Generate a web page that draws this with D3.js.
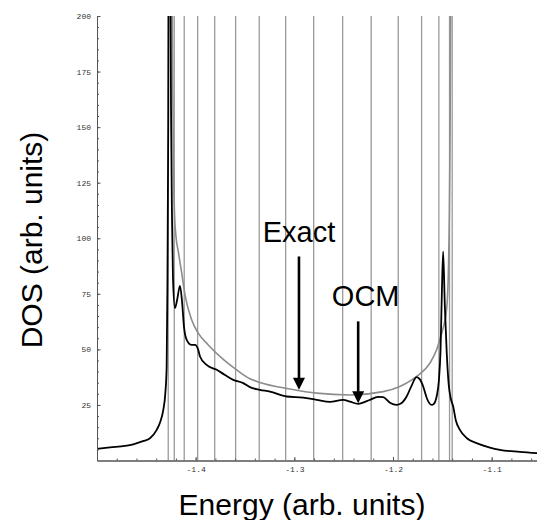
<!DOCTYPE html>
<html>
<head>
<meta charset="utf-8">
<script src="https://cdn.jsdelivr.net/npm/d3@7"></script>
<style>
  body { margin: 0; background: #fff; }
  svg { display: block; }
</style>
</head>
<body>
<svg id="chart" width="537" height="520"></svg>
<script>
// --------------------------------
// data
// --------------------------------

// exact DOS (black), [energy, dos]
var exactDos = [
  [-1.5000, 5.2], [-1.4868, 5.9], [-1.4716, 6.6], [-1.4632, 7.3], [-1.4534, 8.7],
  [-1.4463, 10.0], [-1.4395, 13.8], [-1.4362, 17.0], [-1.4328, 22.8], [-1.4308, 30.0],
  [-1.4294, 42.3], [-1.4286, 80], [-1.4278, 150], [-1.4271, 260], [-1.4260, 260],
  [-1.4250, 160], [-1.4240, 110], [-1.4230, 82], [-1.4210, 68.6], [-1.4189, 72],
  [-1.4159, 78.6], [-1.4139, 72], [-1.4118, 60], [-1.4091, 54.3], [-1.4041, 52.0],
  [-1.4007, 52.0], [-1.3974, 49.8], [-1.3956, 46.8], [-1.3889, 43.0], [-1.3787, 40.8],
  [-1.3703, 38.5], [-1.3619, 36.3], [-1.3518, 34.8], [-1.3450, 33.0], [-1.3349, 31.8],
  [-1.3247, 31.0], [-1.3078, 28.8], [-1.2910, 28.3], [-1.2774, 27.3], [-1.2639, 26.4],
  [-1.2505, 27.3], [-1.2437, 26.5], [-1.2353, 25.5], [-1.2234, 27.3], [-1.2153, 28.6],
  [-1.2099, 28.5], [-1.2031, 26.0], [-1.1964, 25.0], [-1.1920, 25.6], [-1.1862, 28.8],
  [-1.1818, 33.0], [-1.1761, 37.5], [-1.1727, 36.5], [-1.1694, 33.3], [-1.1657, 28.0],
  [-1.1609, 25.0], [-1.1586, 25.5], [-1.1558, 28.8], [-1.1535, 36.0], [-1.1518, 50],
  [-1.1505, 75], [-1.1492, 94], [-1.1475, 70], [-1.1455, 48], [-1.1435, 34],
  [-1.1415, 28], [-1.1390, 24.3], [-1.1363, 18.0], [-1.1322, 13.8], [-1.1251, 10.0],
  [-1.1153, 7.8], [-1.1018, 5.8], [-1.0917, 4.8], [-1.0714, 3.9], [-1.0502, 3.2]
];

// OCM smooth DOS (gray), [energy, dos]
var ocmDos = [
  [-1.4240, 230], [-1.4232, 165], [-1.4225, 135], [-1.4215, 112], [-1.4200, 101],
  [-1.4176, 94], [-1.4142, 84.5], [-1.4108, 74.5], [-1.4041, 63.3], [-1.3974, 57.3],
  [-1.3872, 52.0], [-1.3720, 45.5], [-1.3585, 40.8], [-1.3450, 36.8], [-1.3349, 35.1],
  [-1.3045, 32.2], [-1.2774, 30.3], [-1.2437, 29.5], [-1.2099, 31.0], [-1.1930, 33.3],
  [-1.1761, 37.8], [-1.1626, 43.8], [-1.1558, 49.8], [-1.1515, 56], [-1.1484, 61],
  [-1.1457, 68], [-1.1441, 81], [-1.1429, 110], [-1.1421, 150], [-1.1413, 230]
];

// OCM delta peaks (gray vertical lines)
var ocmPeaks = [
  -1.4278, -1.4217, -1.4116, -1.3980, -1.3807, -1.3595, -1.3356, -1.3088,
  -1.2804, -1.2510, -1.2221, -1.1947, -1.1710, -1.1535, -1.1427, -1.1400
];

var xTicks = [-1.4, -1.3, -1.2, -1.1];
var yTicks = [25, 50, 75, 100, 125, 150, 175, 200];

// annotations: label, energy, text dos, arrow start dos, arrow end dos
var notes = [
  { label: "Exact", e: -1.2953, textY: 98.5, from: 91.8, to: 31.8 },
  { label: "OCM",   e: -1.2353, textY: 69.3, from: 62.6, to: 25.8, textE: -1.2277 }
];

// --------------------------------
// drawing
// --------------------------------

var svg = d3.select("#chart");

var x = d3.scaleLinear().domain([-1.5, -1.05]).range([97, 541]);
var y = d3.scaleLinear().domain([0, 200]).range([460.5, 16]);

svg.append("defs").append("clipPath").attr("id", "plotClip")
  .append("rect")
  .attr("x", x(-1.5)).attr("y", y(200))
  .attr("width", x(-1.05) - x(-1.5)).attr("height", y(0) - y(200));

var plot = svg.append("g").attr("clip-path", "url(#plotClip)");

// gray peak lines
plot.selectAll("line.peak")
  .data(ocmPeaks)
  .enter().append("line")
  .attr("class", "peak")
  .attr("x1", function(d){ return x(d); })
  .attr("x2", function(d){ return x(d); })
  .attr("y1", y(0))
  .attr("y2", y(200))
  .attr("stroke", "#9a9a9a")
  .attr("stroke-width", 1.3);

var line = d3.line()
  .x(function(d){ return x(d[0]); })
  .y(function(d){ return y(d[1]); })
  .curve(d3.curveMonotoneX);

plot.append("path")
  .datum(ocmDos)
  .attr("d", line)
  .attr("fill", "none")
  .attr("stroke", "#8c8c8c")
  .attr("stroke-width", 1.6);

plot.append("path")
  .datum(exactDos)
  .attr("d", line)
  .attr("fill", "none")
  .attr("stroke", "#000")
  .attr("stroke-width", 1.8);

// axes
var tickFont = "'Liberation Mono', 'DejaVu Sans Mono', monospace";

var yMinor = d3.range(5, 201, 5);
svg.append("g")
  .attr("transform", "translate(" + x(-1.5) + ",0)")
  .call(d3.axisLeft(y).tickValues(yMinor).tickSizeInner(-2).tickSizeOuter(0).tickFormat(""));

var yAxis = svg.append("g")
  .attr("transform", "translate(" + x(-1.5) + ",0)")
  .call(d3.axisLeft(y).tickValues(yTicks).tickSizeInner(-3.5).tickSizeOuter(0).tickPadding(6));

var xMinor = d3.range(-1.5, -1.049, 0.02);
svg.append("g")
  .attr("transform", "translate(0," + y(0) + ")")
  .call(d3.axisBottom(x).tickValues(xMinor).tickSizeInner(-2).tickSizeOuter(0).tickFormat(""));

var xAxis = svg.append("g")
  .attr("transform", "translate(0," + y(0) + ")")
  .call(d3.axisBottom(x).tickValues(xTicks).tickSizeInner(-3.5).tickSizeOuter(0).tickPadding(6)
    .tickFormat(d3.format(".1f")));

svg.selectAll(".domain").attr("stroke", "#555").attr("stroke-width", 1);
svg.selectAll(".tick line").attr("stroke", "#555");
svg.selectAll(".tick text")
  .attr("font-family", tickFont)
  .attr("font-size", 8)
  .attr("fill", "#333");
xAxis.selectAll(".tick text").text(function(d){ return d3.format(".1f")(d).replace("−", "-"); });

// annotations
var noteG = svg.append("g");
notes.forEach(function(n){
  noteG.append("text")
    .attr("x", x(n.textE || n.e))
    .attr("y", y(n.textY))
    .attr("text-anchor", "middle")
    .attr("font-family", "'Liberation Sans', Arial, Helvetica, sans-serif")
    .attr("font-size", 29)
    .attr("fill", "#000")
    .text(n.label);
  var x0 = x(n.e), y0 = y(n.from), y1 = y(n.to);
  noteG.append("line")
    .attr("x1", x0).attr("x2", x0)
    .attr("y1", y0).attr("y2", y1 - 10)
    .attr("stroke", "#000")
    .attr("stroke-width", 2.6);
  noteG.append("path")
    .attr("d", "M" + (x0 - 6) + "," + (y1 - 12) + " L" + (x0 + 6) + "," + (y1 - 12) + " L" + x0 + "," + y1 + "Z")
    .attr("fill", "#000");
});

// axis titles
svg.append("text")
  .attr("transform", "translate(42,240) rotate(-90)")
  .attr("text-anchor", "middle")
  .attr("font-family", "'Liberation Sans', Arial, Helvetica, sans-serif")
  .attr("font-size", 30)
  .attr("fill", "#000")
  .text("DOS (arb. units)");

svg.append("text")
  .attr("x", 302)
  .attr("y", 515)
  .attr("text-anchor", "middle")
  .attr("font-family", "'Liberation Sans', Arial, Helvetica, sans-serif")
  .attr("font-size", 30)
  .attr("fill", "#000")
  .text("Energy (arb. units)");
</script>
</body>
</html>
